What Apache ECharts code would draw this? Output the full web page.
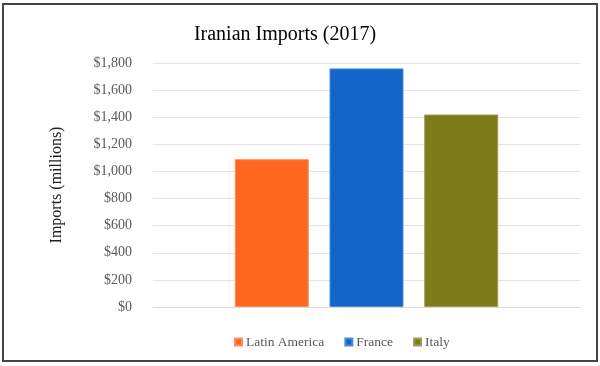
<!DOCTYPE html>
<html><head><meta charset="utf-8">
<script src="https://cdn.jsdelivr.net/npm/echarts@6/dist/echarts.min.js"></script>
<style>html,body{margin:0;padding:0;background:#fff}#c{width:600px;height:366px}</style>
</head><body><div id="c"></div>
<script>
const categories = ['2017'];
const seriesNames = ['Latin America', 'France', 'Italy'];
const latinAmerica = [1090];
const france = [1760];
const italy = [1420];
const colors = ['#FE6720', '#1166C8', '#7E7B19'];
const yTicks = { min: 0, max: 1800, interval: 200 };

const chart = echarts.init(document.getElementById('c'), null, {renderer: 'canvas'});
const font = '"Liberation Serif", "Times New Roman", serif';
const dataSets = [latinAmerica, france, italy];
chart.setOption({
  animation: false,
  graphic: [{
    type: 'rect', shape: {x: 3, y: 4, width: 594, height: 357},
    style: {fill: 'none', stroke: '#444', lineWidth: 2}, z: 100
  }],
  title: {
    text: 'Iranian Imports (2017)', left: 280, top: 20, textAlign: 'center',
    textStyle: {fontFamily: font, fontSize: 20, fontWeight: 'normal', color: '#000'}
  },
  legend: {
    data: seriesNames, left: 229, top: 330, itemWidth: 7, itemHeight: 7, itemGap: 20,
    icon: 'rect',
    textStyle: {fontFamily: font, fontSize: 13.5, color: '#595959', padding: [0,0,0,-1]}
  },
  grid: {left: 153, right: 20, top: 63, bottom: 59, containLabel: false},
  xAxis: {
    type: 'category', data: categories,
    axisLine: {show: true, lineStyle: {color: '#d9d9d9'}}, axisTick: {show: false}, axisLabel: {show: false}
  },
  yAxis: {
    type: 'value', min: yTicks.min, max: yTicks.max, interval: yTicks.interval,
    name: 'Imports (millions)', nameLocation: 'middle', nameGap: 88, nameRotate: 90,
    nameTextStyle: {fontFamily: font, fontSize: 16, color: '#222'},
    axisLine: {show: false}, axisTick: {show: false},
    splitLine: {lineStyle: {color: '#e4e4e4'}},
    axisLabel: {
      fontFamily: font, fontSize: 14, color: '#595959', margin: 21,
      formatter: v => '$' + v.toLocaleString('en-US')
    }
  },
  series: dataSets.map((d, i) => ({
    name: seriesNames[i], type: 'bar', data: d, barWidth: 74, barGap: '28%',
    itemStyle: {color: colors[i], borderColor: echarts.color.lift(colors[i], 0.25), borderWidth: 1}
  }))
});
</script></body></html>
